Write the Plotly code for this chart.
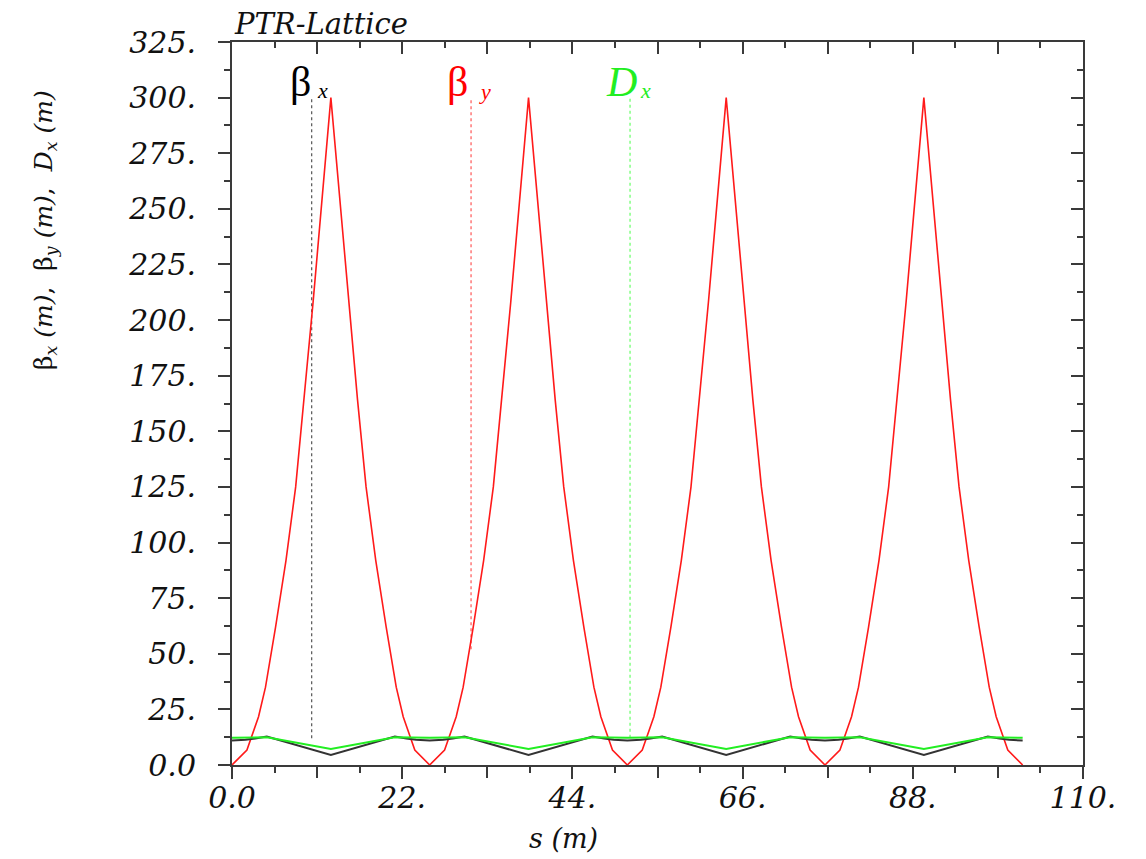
import plotly.graph_objects as go

# ---- data ----
s_betay = [0, 1.93, 3.43, 4.33, 5.63, 6.98, 8.23, 9.33, 10.48, 12.78, 15.08, 16.23, 17.33, 18.58, 19.93, 21.23, 22.13, 23.63, 25.55,
           27.48, 28.98, 29.88, 31.18, 32.53, 33.78, 34.88, 36.03, 38.33, 40.63, 41.78, 42.88, 44.13, 45.48, 46.78, 47.68, 49.18, 51.10,
           53.03, 54.53, 55.43, 56.73, 58.08, 59.33, 60.43, 61.58, 63.88, 66.18, 67.33, 68.43, 69.68, 71.03, 72.33, 73.23, 74.73, 76.65,
           78.58, 80.08, 80.98, 82.28, 83.63, 84.88, 85.98, 87.13, 89.43, 91.73, 92.88, 93.98, 95.23, 96.58, 97.88, 98.78, 100.28, 102.2]
betay = [0, 6.7, 21.7, 35, 62, 92, 125, 164, 208, 300, 208, 164, 125, 92, 62, 35, 21.7, 6.7, 0,
         6.7, 21.7, 35, 62, 92, 125, 164, 208, 300, 208, 164, 125, 92, 62, 35, 21.7, 6.7, 0,
         6.7, 21.7, 35, 62, 92, 125, 164, 208, 300, 208, 164, 125, 92, 62, 35, 21.7, 6.7, 0,
         6.7, 21.7, 35, 62, 92, 125, 164, 208, 300, 208, 164, 125, 92, 62, 35, 21.7, 6.7, 0]

s_betax = [0, 1.75, 3.0, 4.5, 12.78, 21.05, 22.55, 23.8, 25.55, 27.3, 28.55, 30.05, 38.33, 46.6, 48.1, 49.35, 51.1,
           52.85, 54.1, 55.6, 63.88, 72.15, 73.65, 74.9, 76.65, 78.4, 79.65, 81.15, 89.43, 97.7, 99.2, 100.45, 102.2]
betax = [11.0, 11.3, 11.9, 12.8, 4.5, 12.8, 11.9, 11.3, 11.0, 11.3, 11.9, 12.8, 4.5, 12.8, 11.9, 11.3, 11.0,
         11.3, 11.9, 12.8, 4.5, 12.8, 11.9, 11.3, 11.0, 11.3, 11.9, 12.8, 4.5, 12.8, 11.9, 11.3, 11.0]

s_dx = [0, 4.5, 12.78, 21.05, 25.55, 30.05, 38.33, 46.6, 51.1, 55.6, 63.88, 72.15, 76.65, 81.15, 89.43, 97.7, 102.2]
dx = [12.2, 12.5, 7.2, 12.5, 12.2, 12.5, 7.2, 12.5, 12.2, 12.5, 7.2, 12.5, 12.2, 12.5, 7.2, 12.5, 12.2]

# label marker (dotted) lines
marker_s = [10.3, 30.9, 51.45]
marker_top = [300, 300, 300]
marker_bottom = [12, 52, 12.3]
marker_colors = ["#555555", "#ff5555", "#66ff66"]

x_tickvals = [0, 22, 44, 66, 88, 110]
x_ticktext = ["0.0", "22.", "44.", "66.", "88.", "110."]
x_all_major = [0, 11, 22, 33, 44, 55, 66, 77, 88, 99, 110]
x_odd_major = [11, 33, 55, 77, 99]
y_tickvals = [0, 25, 50, 75, 100, 125, 150, 175, 200, 225, 250, 275, 300, 325]
y_ticktext = ["0.0", "25.", "50.", "75.", "100.", "125.", "150.", "175.", "200.", "225.", "250.", "275.", "300.", "325."]

AX = "#3a3a3a"
TICKFONT = dict(family="DejaVu Serif", size=30, style="italic", color="#111111")

fig = go.Figure()
for xs, lo, hi, c in zip(marker_s, marker_bottom, marker_top, marker_colors):
    fig.add_trace(go.Scatter(x=[xs, xs], y=[lo, hi], mode="lines",
                             line=dict(color=c, width=1.2, dash="dot"), showlegend=False, hoverinfo="skip"))
fig.add_trace(go.Scatter(x=s_betay, y=betay, mode="lines", line=dict(color="#ff1a1a", width=1.6), showlegend=False))
fig.add_trace(go.Scatter(x=s_betax, y=betax, mode="lines", line=dict(color="#333333", width=2), showlegend=False))
fig.add_trace(go.Scatter(x=s_dx, y=dx, mode="lines", line=dict(color="#22ee22", width=2), showlegend=False))
# helper traces for the extra tick axes
fig.add_trace(go.Scatter(x=[0], y=[0], xaxis="x2", yaxis="y2", mode="markers",
                         marker=dict(opacity=0), showlegend=False, hoverinfo="skip"))
fig.add_trace(go.Scatter(x=[0], y=[0], xaxis="x3", yaxis="y", mode="markers",
                         marker=dict(opacity=0), showlegend=False, hoverinfo="skip"))

minor_x = dict(tickmode="linear", tick0=0, dtick=5.5, ticklen=6, tickwidth=2, tickcolor=AX)
minor_y = dict(tickmode="linear", tick0=0, dtick=12.5, ticklen=6, tickwidth=2, tickcolor=AX)

fig.update_layout(
    width=1146, height=859,
    margin=dict(l=232, r=63, t=42, b=94),
    paper_bgcolor="white", plot_bgcolor="white",
    xaxis=dict(range=[0, 110], tickmode="array", tickvals=x_tickvals, ticktext=x_ticktext,
               ticks="outside", ticklen=12, tickwidth=2, tickcolor=AX,
               minor=dict(ticks="outside", **minor_x),
               showline=True, linecolor=AX, linewidth=2, showgrid=False, zeroline=False,
               tickfont=TICKFONT, ticklabelstandoff=-7),
    xaxis3=dict(range=[0, 110], overlaying="x", side="bottom", anchor="y", tickmode="array", tickvals=x_odd_major,
                ticks="outside", ticklen=12, tickwidth=2, tickcolor=AX,
                showticklabels=False, showline=False, showgrid=False, zeroline=False),
    yaxis=dict(range=[0, 325], tickmode="array", tickvals=y_tickvals, ticktext=y_ticktext,
               ticks="outside", ticklen=12, tickwidth=2, tickcolor=AX,
               minor=dict(ticks="outside", **minor_y),
               showline=True, linecolor=AX, linewidth=2, showgrid=False, zeroline=False,
               tickfont=TICKFONT, ticklabelstandoff=16),
    xaxis2=dict(range=[0, 110], overlaying="x", side="top", anchor="y2", tickmode="array", tickvals=x_all_major,
                ticks="inside", ticklen=12, tickwidth=2, tickcolor=AX,
                minor=dict(ticks="inside", **minor_x),
                showticklabels=False, showline=True, linecolor=AX, linewidth=2, showgrid=False, zeroline=False),
    yaxis2=dict(range=[0, 325], overlaying="y", side="right", anchor="x2", tickmode="array", tickvals=y_tickvals,
                ticks="inside", ticklen=12, tickwidth=2, tickcolor=AX,
                minor=dict(ticks="inside", **minor_y),
                showticklabels=False, showline=True, linecolor=AX, linewidth=2, showgrid=False, zeroline=False),
)

def px2paper(px, py):
    return (px - 232) / 851, (765 - py) / 723

anns = []
x, y = px2paper(232, 24)
anns.append(dict(text="PTR-Lattice", x=x, y=y, xanchor="left", yanchor="middle",
                 font=dict(family="DejaVu Serif", size=29, style="italic", color="#111")))
x, y = px2paper(563, 838)
anns.append(dict(text="<i>s (m)</i>", x=x, y=y, xanchor="center", yanchor="middle",
                 font=dict(family="DejaVu Serif", size=27, color="#111")))
x, y = px2paper(45, 230)
anns.append(dict(text="β<sub><i>x</i></sub> <i>(m)</i>,  β<sub><i>y</i></sub> <i>(m)</i>,  <i>D<sub>x</sub></i> <i>(m)</i>",
                 x=x, y=y, xanchor="center", yanchor="middle", textangle=-90,
                 font=dict(family="DejaVu Serif", size=25, color="#111")))
x, y = px2paper(313, 82)
anns.append(dict(text="β", x=x, y=y, xanchor="right", yanchor="middle",
                 font=dict(family="Liberation Serif", size=42, color="#000")))
x, y = px2paper(315, 90)
anns.append(dict(text="<i>x</i>", x=x, y=y, xanchor="left", yanchor="middle",
                 font=dict(family="Liberation Serif", size=22, color="#000")))
x, y = px2paper(470, 82)
anns.append(dict(text="β", x=x, y=y, xanchor="right", yanchor="middle",
                 font=dict(family="Liberation Serif", size=42, color="#ff0000")))
x, y = px2paper(477, 92)
anns.append(dict(text="<i>y</i>", x=x, y=y, xanchor="left", yanchor="middle",
                 font=dict(family="Liberation Serif", size=22, color="#ff0000")))
x, y = px2paper(639, 82)
anns.append(dict(text="<i>D</i>", x=x, y=y, xanchor="right", yanchor="middle",
                 font=dict(family="Liberation Serif", size=42, color="#22ee22")))
x, y = px2paper(638, 90)
anns.append(dict(text="<i>x</i>", x=x, y=y, xanchor="left", yanchor="middle",
                 font=dict(family="Liberation Serif", size=22, color="#22ee22")))

for a in anns:
    a.update(xref="paper", yref="paper", showarrow=False)
fig.update_layout(annotations=anns)

fig.write_html("out.html")
